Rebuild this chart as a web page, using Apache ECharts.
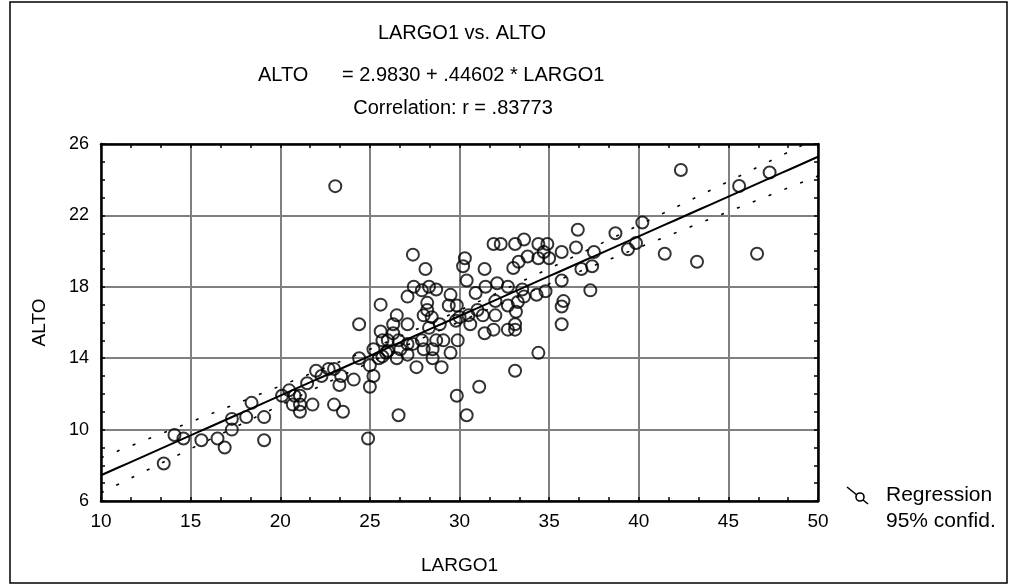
<!DOCTYPE html>
<html>
<head>
<meta charset="utf-8">
<script src="https://cdn.jsdelivr.net/npm/echarts@6/dist/echarts.min.js"></script>
<style>html,body{margin:0;padding:0;background:#fff;}#c{width:1010px;height:587px;}</style>
</head>
<body>
<div id="c"></div>
<script>
// ---- data ----
const largo1 = [13.5,14.1,14.6,15.6,16.5,16.9,17.3,17.3,18.1,18.4,19.1,19.1,20.1,20.5,20.8,21.1,20.7,21.1,21.1,21.8,21.5,22.0,22.3,22.7,23.0,23.0,
  24.4,25.6,26.3,27.1,26.3,25.7,26.0,26.6,26.7,26.5,27.1,27.4,27.6,27.9,28.0,28.3,28.5,28.5,28.7,28.9,29.0,25.2,25.7,25.0,25.2,25.0,24.4,24.1,23.4,23.3,25.9,26.0,25.5,27.1,28.45,29.1,29.9,29.5,23.5,24.9,26.6,29.85,30.4,31.1,33.1,34.4,
  31.9,31.4,32.7,33.1,33.1,31.3,32.0,33.15,30.6,35.7,29.8,30.0,31.0,30.5,
  23.07,27.4,28.1,30.3,30.2,31.4,30.4,31.9,32.3,33.1,33.6,34.4,34.9,33.3,33.0,33.8,34.4,34.7,35.0,35.7,35.7,35.8,35.7,
  27.45,27.9,28.3,28.7,27.1,28.2,25.6,29.5,29.4,29.85,30.9,31.45,32.1,32.7,33.5,33.6,34.3,34.8,32.0,32.7,33.25,26.5,28.0,28.2,
  42.35,47.3,45.6,40.2,38.7,36.6,36.5,37.5,39.85,39.4,41.45,43.25,46.6,36.8,37.4,37.3];
const alto = [8.1,9.7,9.5,9.4,9.5,9.0,10.0,10.6,10.7,11.5,10.7,9.4,11.9,12.2,11.9,11.9,11.4,11.0,11.4,11.4,12.6,13.3,13.0,13.4,13.4,11.4,
  15.9,15.5,15.9,15.9,15.4,15.0,15.0,15.0,14.5,14.0,14.2,14.8,13.5,15.0,14.5,15.7,14.5,14.0,15.0,15.9,13.5,14.5,14.1,13.6,13.0,12.4,14.0,12.8,13.0,12.5,14.3,14.4,14.0,14.8,16.3,15.0,15.0,14.3,11.0,9.5,10.8,11.9,10.8,12.4,13.3,14.3,
  15.6,15.4,15.6,15.6,15.9,16.4,16.4,16.6,15.9,15.9,16.1,16.3,16.7,16.4,
  23.64,19.8,19.0,19.6,19.15,19.0,18.35,20.4,20.4,20.4,20.65,20.4,20.4,19.4,19.05,19.7,19.6,19.95,19.6,19.95,18.35,17.2,16.9,
  18.0,17.8,18.0,17.85,17.45,17.1,17.0,17.55,16.95,16.95,17.65,18.0,18.2,18.0,17.85,17.45,17.55,17.75,17.2,16.95,17.15,16.4,16.4,16.7,
  24.54,24.4,23.65,21.6,21.0,21.2,20.2,19.95,20.45,20.1,19.85,19.4,19.85,19.0,19.15,17.8];
const intercept = 2.9830, slope = 0.44602;
const xTicks = {min: 10, max: 50, interval: 5};
const yTicks = {min: 6, max: 26, interval: 4};
const titleLines = ['LARGO1 vs. ALTO', 'ALTO', '= 2.9830 + .44602 * LARGO1', 'Correlation: r = .83773'];
const legendLabels = ['Regression', '95% confid.'];

// ---- regression line (from the stated equation) and 95% confidence band ----
const n = largo1.length;
const xbar = largo1.reduce((a,b)=>a+b,0)/n;
let sxx = 0, sse = 0;
for (let i=0;i<n;i++){ sxx += (largo1[i]-xbar)**2; sse += (alto[i]-(intercept+slope*largo1[i]))**2; }
const s = Math.sqrt(sse/(n-2)), tval = 1.976;
const lineData = [], upper = [], lower = [];
for (let x = xTicks.min; x <= xTicks.max + 1e-9; x += 0.5) {
  const yh = intercept + slope*x;
  const hw = tval*s*Math.sqrt(1/n + (x-xbar)**2/sxx);
  lineData.push([x, yh]); upper.push([x, yh+hw]); lower.push([x, yh-hw]);
}
const pts = largo1.map((x,i)=>[x, alto[i]]);

const FONT = 'Liberation Sans, Arial, sans-serif';
const chart = echarts.init(document.getElementById('c'), null, {renderer:'canvas'});
const axCommon = {
  type:'value', axisLine:{show:true, onZero:false, lineStyle:{color:'#000', width:2.5}},
  axisTick:{show:true, inside:true, length:4, lineStyle:{color:'#000', width:1.5}},
  minorTick:{show:true, length:4, lineStyle:{color:'#000', width:1.5}}
};
chart.setOption({
  animation:false,
  backgroundColor:'#fff',
  grid:{left:101, top:144, right:192, bottom:86, containLabel:false},
  xAxis:[
    Object.assign({}, axCommon, {position:'bottom', min:xTicks.min, max:xTicks.max, interval:xTicks.interval,
      minorTick:Object.assign({}, axCommon.minorTick, {splitNumber:3}),
      splitLine:{show:true, lineStyle:{color:'#808080', width:2}},
      axisLabel:{color:'#000', fontSize:19, fontFamily:FONT, margin:11},
      name:'LARGO1', nameLocation:'middle', nameGap:55, nameTextStyle:{color:'#000', fontSize:19, fontFamily:FONT}}),
    Object.assign({}, axCommon, {position:'top', min:xTicks.min, max:xTicks.max, interval:xTicks.interval,
      minorTick:Object.assign({}, axCommon.minorTick, {splitNumber:3}),
      splitLine:{show:false}, axisLabel:{show:false}})
  ],
  yAxis:[
    Object.assign({}, axCommon, {position:'left', min:yTicks.min, max:yTicks.max, interval:yTicks.interval,
      minorTick:Object.assign({}, axCommon.minorTick, {splitNumber:4}),
      splitLine:{show:true, lineStyle:{color:'#808080', width:2}},
      axisLabel:{color:'#000', fontSize:18, fontFamily:FONT, margin:12},
      name:'ALTO', nameLocation:'middle', nameGap:52, nameRotate:90, nameTextStyle:{color:'#000', fontSize:19, fontFamily:FONT}}),
    Object.assign({}, axCommon, {position:'right', min:yTicks.min, max:yTicks.max, interval:yTicks.interval,
      minorTick:Object.assign({}, axCommon.minorTick, {splitNumber:4}),
      splitLine:{show:false}, axisLabel:{show:false}})
  ],
  series:[
    {type:'line', data:upper, showSymbol:false, symbol:'none', lineStyle:{color:'#000', width:1.6, type:[3,14]}, z:3},
    {type:'line', data:lower, showSymbol:false, symbol:'none', lineStyle:{color:'#000', width:1.6, type:[3,14]}, z:3},
    {type:'line', data:lineData, showSymbol:false, symbol:'none', lineStyle:{color:'#000', width:2}, z:4},
    {type:'scatter', data:pts, symbol:'circle', symbolSize:12,
      itemStyle:{color:'rgba(0,0,0,0)', borderColor:'#000', borderWidth:2}, z:5},
    {type:'scatter', data:[], xAxisIndex:1, yAxisIndex:1}
  ],
  graphic:[
    {type:'rect', shape:{x:10, y:2, width:997, height:581}, style:{fill:'none', stroke:'#000', lineWidth:1.5}, silent:true},
    {type:'text', x:462, y:33, style:{text:titleLines[0], font:'20px '+FONT, fill:'#000', textAlign:'center', textVerticalAlign:'middle'}},
    {type:'text', x:258, y:75, style:{text:titleLines[1], font:'20px '+FONT, fill:'#000', textAlign:'left', textVerticalAlign:'middle'}},
    {type:'text', x:342, y:75, style:{text:titleLines[2], font:'20px '+FONT, fill:'#000', textAlign:'left', textVerticalAlign:'middle'}},
    {type:'text', x:453, y:108, style:{text:titleLines[3], font:'20px '+FONT, fill:'#000', textAlign:'center', textVerticalAlign:'middle'}},
    {type:'line', shape:{x1:847, y1:487, x2:868, y2:504}, style:{stroke:'#000', lineWidth:1.6}},
    {type:'circle', shape:{cx:860, cy:497, r:4}, style:{fill:'#fff', stroke:'#000', lineWidth:1.6}},
    {type:'text', x:886, y:495, style:{text:legendLabels[0], font:'21px '+FONT, fill:'#000', textAlign:'left', textVerticalAlign:'middle'}},
    {type:'text', x:886, y:521, style:{text:legendLabels[1], font:'21px '+FONT, fill:'#000', textAlign:'left', textVerticalAlign:'middle'}}
  ]
});
</script>
</body>
</html>
